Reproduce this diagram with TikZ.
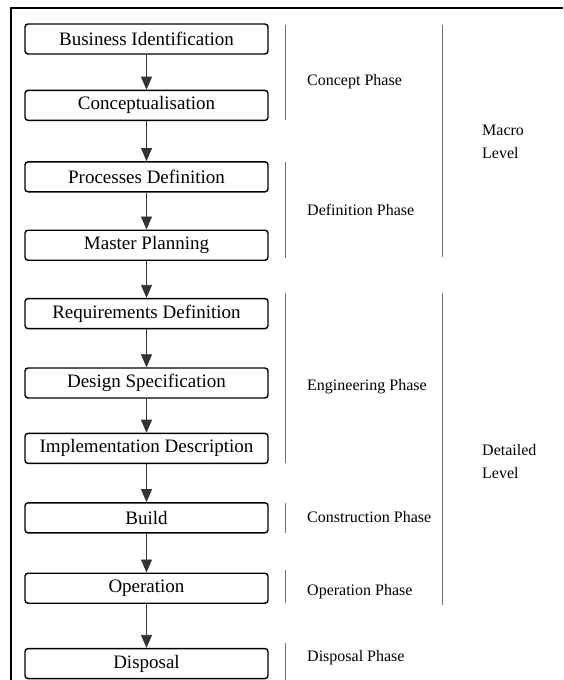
\documentclass[tikz,border=0pt]{standalone}
\usepackage{fontspec}
\setmainfont{Liberation Serif}
\usetikzlibrary{positioning,arrows.meta}

\tikzset{
  stage/.style={draw, rounded corners=3pt, line width=1.4pt, minimum width=243pt,
    minimum height=30pt, inner sep=0pt, font=\fontsize{19}{22}\selectfont},
  flow/.style={-{Triangle[width=11pt,length=13pt]}, line width=0.8pt, black!80},
  bar/.style={line width=0.9pt, black!55},
  phase/.style={anchor=west, inner sep=0pt, font=\fontsize{16}{23}\selectfont},
  level/.style={anchor=west, align=left, inner sep=0pt, font=\fontsize{16}{23}\selectfont},
}

\begin{document}
\begin{tikzpicture}[x=1pt,y=1pt]
  \useasboundingbox (0,0) rectangle (563,-680);
  % frame
  \draw[line width=2.5pt] (563,-8) -- (11,-8) -- (11,-680);

  % stages
  \node[stage] (bi) at (146.5,-39) {Business Identification};
  \node[stage, below=35pt of bi] (con) {Conceptualisation};
  \node[stage, below=40pt of con] (pd) {Processes Definition};
  \node[stage, below=37pt of pd] (mp) {Master Planning};
  \node[stage, below=37pt of mp] (rd) {Requirements Definition};
  \node[stage, below=38pt of rd] (ds) {Design Specification};
  \node[stage, below=34pt of ds] (id) {Implementation Description};
  \node[stage, below=38pt of id] (bu) {Build};
  \node[stage, below=39pt of bu] (op) {Operation};
  \node[stage, below=44pt of op] (dp) {Disposal};

  \draw[flow] (bi) -- (con);
  \draw[flow] (con) -- (pd);
  \draw[flow] (pd) -- (mp);
  \draw[flow] (mp) -- (rd);
  \draw[flow] (rd) -- (ds);
  \draw[flow] (ds) -- (id);
  \draw[flow] (id) -- (bu);
  \draw[flow] (bu) -- (op);
  \draw[flow] (op) -- (dp);

  % phases
  \draw[bar] (285,-25) -- (285,-120);
  \draw[bar] (285,-162) -- (285,-258);
  \draw[bar] (285,-293) -- (285,-463);
  \draw[bar] (285,-503) -- (285,-533);
  \draw[bar] (285,-570) -- (285,-603);
  \draw[bar] (285,-643) -- (285,-680);
  \node[phase] (cph) at (307,-82) {Concept Phase};
  \node[phase] (dph) at (307,-210) {Definition Phase};
  \node[phase] (eph) at (307,-387) {Engineering Phase};
  \node[phase] (kph) at (307,-517) {Construction Phase};
  \node[phase] (oph) at (307,-592) {Operation Phase};
  \node[phase] (xph) at (307,-658) {Disposal Phase};

  % levels
  \draw[bar] (442,-25) -- (442,-257);
  \draw[bar] (442,-293) -- (442,-605);
  \node[level] (macro) at (482,-142) {Macro\\Level};
  \node[level] (detail) at (482,-462) {Detailed\\Level};
\end{tikzpicture}
\end{document}
